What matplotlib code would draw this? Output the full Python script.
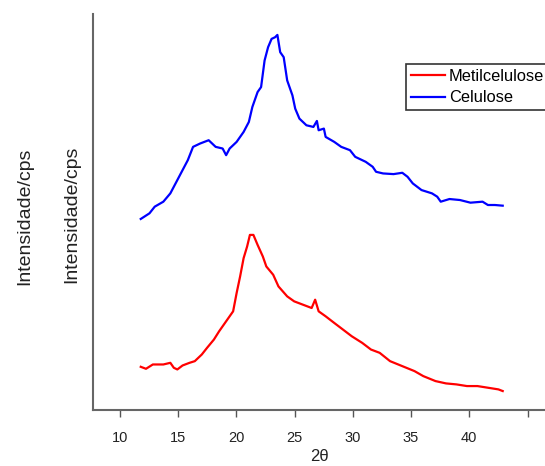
import matplotlib
matplotlib.use("Agg")
import matplotlib.pyplot as plt
from matplotlib import font_manager

names = {f.name for f in font_manager.fontManager.ttflist}
narrow = "Liberation Sans Narrow" if "Liberation Sans Narrow" in names else "Liberation Sans"

# Celulose (blue)
cel_x = [11.8, 12.55, 13.0, 13.74, 14.34, 14.64, 15.24, 15.84, 16.29, 16.89, 17.63, 18.23, 18.83, 19.13,
         19.43, 20.03, 20.63, 21.08, 21.38, 21.83, 22.13, 22.43, 22.73, 23.03, 23.33, 23.53, 23.77, 24.07,
         24.37, 24.82, 25.06, 25.42, 26.02, 26.62, 26.92, 27.07, 27.52, 27.67, 28.41, 29.01, 29.76, 30.21,
         31.11, 31.71, 32.0, 32.6, 33.5, 34.25, 34.7, 35.15, 35.9, 36.8, 37.25, 37.55, 38.3, 39.2, 40.1,
         41.14, 41.6, 42.2, 42.87]
cel_y = [575, 592, 612, 627, 652, 672, 712, 752, 792, 802, 812, 792, 787, 767,
         787, 807, 837, 867, 912, 957, 972, 1052, 1092, 1117, 1122, 1129, 1077, 1062,
         992, 947, 907, 877, 857, 852, 870, 842, 847, 822, 807, 792, 782, 762,
         747, 732, 717, 712, 710, 714, 702, 682, 662, 652, 642, 627, 635, 632, 624,
         627, 617, 617, 615]

# Metilcelulose (red)
met_x = [11.8, 12.25, 12.84, 13.74, 14.34, 14.64, 14.94, 15.39, 15.99, 16.44, 17.04, 17.49, 18.08, 18.53,
         19.13, 19.73, 20.03, 20.33, 20.63, 20.93, 21.17, 21.47, 21.83, 22.28, 22.58, 23.17, 23.62, 24.37,
         24.97, 25.72, 26.47, 26.77, 27.07, 27.67, 28.41, 29.16, 29.91, 30.81, 31.56, 32.31, 33.2, 34.25,
         35.3, 36.05, 37.1, 38.0, 38.9, 39.8, 40.7, 41.6, 42.5, 42.87]
met_y = [130, 124, 137, 137, 142, 127, 122, 134, 142, 147, 167, 187, 212, 237,
         267, 297, 352, 402, 457, 492, 527, 527, 497, 462, 432, 407, 372, 342,
         327, 317, 307, 332, 297, 282, 262, 242, 222, 202, 182, 172, 147, 132,
         117, 102, 87, 80, 77, 72, 72, 67, 62, 57]

xticks = [10, 15, 20, 25, 30, 35, 40, 45]
xticklabels = ["10", "15", "20", "25", "30", "35", "40", ""]

fig = plt.figure(figsize=(5.45, 4.66), dpi=100)
ax = fig.add_axes([0.1706, 0.1202, 0.8294, 0.8498])

ax.plot(met_x, met_y, color="#ff0000", lw=1.6, label="Metilcelulose")
ax.plot(cel_x, cel_y, color="#0000ff", lw=1.6, label="Celulose")

ax.set_xlim(7.7, 46.5)
ax.set_ylim(0, 1192)
ax.set_yticks([])
ax.set_xticks(xticks)
ax.set_xticklabels(xticklabels, fontfamily=narrow, fontsize=10.5, color="#222222")
ax.tick_params(axis="x", direction="out", length=5, width=1, color="#555555", pad=10)
for s in ["top", "right"]:
    ax.spines[s].set_visible(False)
for s in ["left", "bottom"]:
    ax.spines[s].set_color("#666666")
    ax.spines[s].set_linewidth(1.5)

ax.set_xlabel("2θ", fontsize=12, fontfamily="Liberation Sans", color="#222222", labelpad=3)

fig.text(0.046, 0.536, "Intensidade/cps", rotation=90, ha="center", va="center",
         fontsize=14, fontfamily="Liberation Sans", color="#222222")
fig.text(0.132, 0.540, "Intensidade/cps", rotation=90, ha="center", va="center",
         fontsize=14, fontfamily="Liberation Sans", color="#222222")

leg = ax.legend(loc="upper left", bbox_to_anchor=(0.745, 0.863), bbox_transform=fig.transFigure,
                frameon=True, fancybox=False, framealpha=1, edgecolor="#333333",
                prop={"family": narrow, "size": 11.8}, handlelength=2.1, handletextpad=0.2,
                borderpad=0.3, labelspacing=0.4, borderaxespad=0)
leg.get_frame().set_linewidth(1.2)

fig.savefig("out.png", dpi=100)
